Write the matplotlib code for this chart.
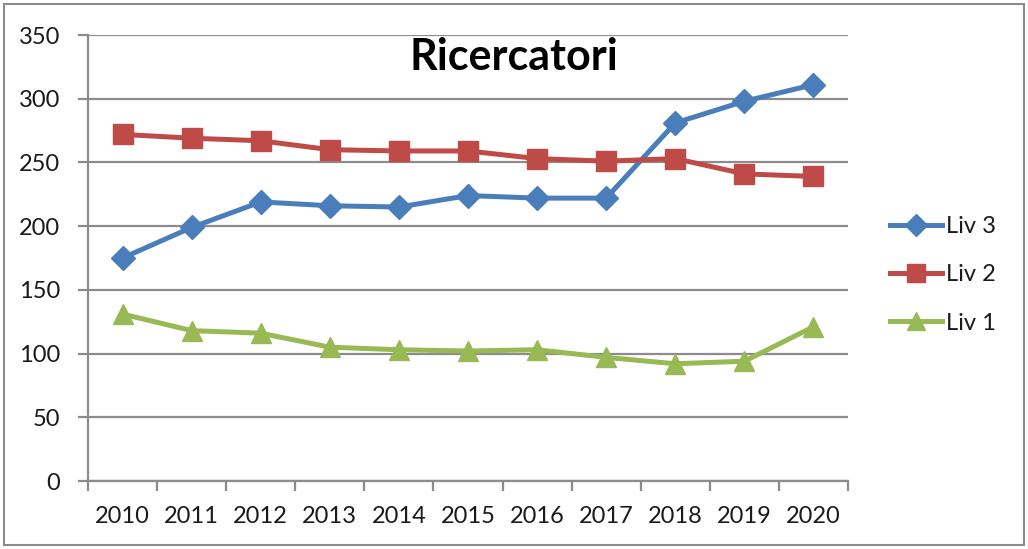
import numpy as np
import matplotlib.pyplot as plt
from matplotlib.patches import Rectangle

years = ['2010', '2011', '2012', '2013', '2014', '2015', '2016', '2017', '2018', '2019', '2020']
liv3 = [175, 199, 219, 216, 215, 224, 222, 222, 281, 298, 311]
liv2 = [272, 269, 267, 260, 259, 259, 253, 251, 253, 241, 239]
liv1 = [131, 118, 116, 105, 103, 102, 103, 97, 92, 94, 121]

plt.rcParams['font.family'] = ['Lato', 'DejaVu Sans']
txt_col = '#1a1a1a'

fig = plt.figure(figsize=(10.28, 5.49), dpi=100)
# plot area in pixels: left 88, right 848, top 35, bottom 481
ax = fig.add_axes([88/1028, 1 - 481/549, 760/1028, 446/549])

x = np.arange(len(years))
ax.plot(x, liv3, color='#4A7EBB', lw=3.6, marker='D', ms=12, label='Liv 3', zorder=3)
ax.plot(x, liv2, color='#BE4B48', lw=3.6, marker='s', ms=15, label='Liv 2', zorder=3)
ax.plot(x, liv1, color='#98B954', lw=3.6, marker='^', ms=15, label='Liv 1', zorder=3)

ax.set_xlim(-0.5, 10.5)
ax.set_ylim(0, 350)
ax.set_yticks(np.arange(0, 351, 50))
ax.yaxis.grid(True, color='#8C8C8C', lw=1.6)
ax.set_axisbelow(True)

ax.set_xticks(x)
ax.set_xticklabels(years)
ax.set_xticks(np.arange(-0.5, 11, 1), minor=True)
ax.tick_params(axis='x', which='major', length=0, pad=18, labelsize=17, labelcolor=txt_col)
ax.tick_params(axis='x', which='minor', length=7, width=1.6, color='#8C8C8C')
ax.tick_params(axis='y', length=7, width=1.6, color='#8C8C8C', pad=13, labelsize=17,
               labelcolor=txt_col)

for s in ['top', 'right']:
    ax.spines[s].set_visible(False)
for s in ['left', 'bottom']:
    ax.spines[s].set_color('#8C8C8C')
    ax.spines[s].set_linewidth(1.6)

fig.text(514/1028, 1 - 57/549, 'Ricercatori', ha='center', va='center',
         fontsize=31, fontweight='bold', color='#000000')

leg = ax.legend(loc='center left', bbox_to_anchor=(1.027, 0.462), frameon=False,
                fontsize=17, handlelength=2.2, handletextpad=0.2, labelspacing=1.15,
                markerscale=0.9, borderpad=0.4)
for t in leg.get_texts():
    t.set_color(txt_col)

fig.patches.append(Rectangle((4/1028, 4/549), 1020/1028, 541/549, transform=fig.transFigure,
                             fill=False, edgecolor='#8C8C8C', lw=1.5))

fig.savefig('out.png', dpi=100)
